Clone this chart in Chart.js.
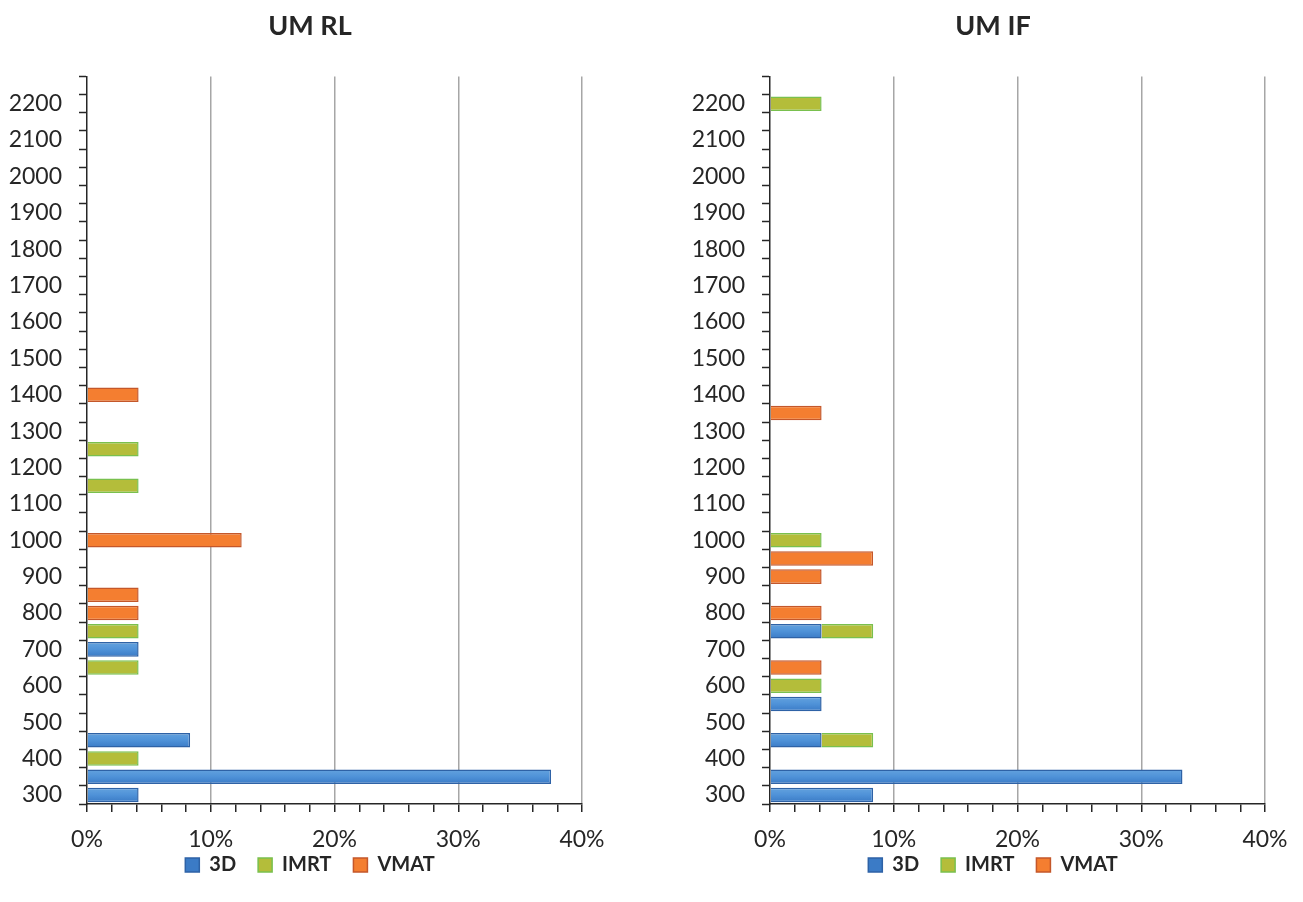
<!DOCTYPE html>
<html>
<head>
<meta charset="utf-8">
<title>UM RL / UM IF</title>
<script src="https://cdn.jsdelivr.net/npm/chart.js@4/dist/chart.umd.min.js"></script>
<style>
  body { margin: 0; background: #fff; }
  .box { position: absolute; top: 0; width: 620px; height: 902px; }
</style>
</head>
<body>
<div class="box" style="left:0"><canvas id="chartRL" width="620" height="902"></canvas></div>
<div class="box" style="left:683px"><canvas id="chartIF" width="620" height="902"></canvas></div>
<script>
// MU bins (y axis), bottom to top
var muBins = [300, 350, 400, 450, 500, 550, 600, 650, 700, 750,
              800, 850, 900, 950, 1000, 1050, 1100, 1150, 1200, 1250,
              1300, 1350, 1400, 1450, 1500, 1550, 1600, 1650, 1700, 1750,
              1800, 1850, 1900, 1950, 2000, 2050, 2100, 2150, 2200, 2250];
var xTicks = [0, 10, 20, 30, 40];

// UM RL: bins that hold a value, and the share of plans (%)
var rlBins3D = [300, 350, 450, 700];
var rl3D = [4.17, 37.5, 8.33, 4.17];
var rlBinsIMRT = [400, 650, 750, 1150, 1250];
var rlIMRT = [4.17, 4.17, 4.17, 4.17, 4.17];
var rlBinsVMAT = [800, 850, 1000, 1400];
var rlVMAT = [4.17, 4.17, 12.5, 4.17];

// UM IF
var ifBins3D = [300, 350, 450, 550, 750];
var if3D = [8.33, 33.33, 4.17, 4.17, 4.17];
var ifBinsIMRT = [450, 600, 750, 1000, 2200];
var ifIMRT = [4.17, 4.17, 4.17, 4.17, 4.17];
var ifBinsVMAT = [650, 800, 900, 950, 1350];
var ifVMAT = [4.17, 4.17, 4.17, 8.33, 4.17];

var FONT = 'Lato, "Open Sans", sans-serif';
var INK = '#262626';

function spread(bins, values) {
    return muBins.map(function (b) {
        var i = bins.indexOf(b);
        return i < 0 ? null : values[i];
    });
}

// blue bars get a soft top-to-bottom shading
function blueFill(ctx) {
    var flat = '#4f92d8';
    if (ctx.type !== 'data' || !ctx.parsed || !ctx.chart.scales.y) return flat;
    var y = ctx.chart.scales.y.getPixelForValue(ctx.parsed.y);
    if (!isFinite(y)) return flat;
    var g = ctx.chart.ctx.createLinearGradient(0, y - 7, 0, y + 7);
    g.addColorStop(0, '#63a2de');
    g.addColorStop(0.5, '#4f92d8');
    g.addColorStop(1, '#3b7bc6');
    return g;
}

// pull the legend up closer to the axis labels
var liftLegend = {
    id: 'liftLegend',
    afterLayout: function (chart) {
        chart.legend.top -= 21;
        chart.legend.bottom -= 21;
    }
};

function renderChart(id, title, d3, dImrt, dVmat) {
    var ctx = document.getElementById(id).getContext('2d');
    return new Chart(ctx, {
        type: 'bar',
        data: {
            labels: muBins.map(String),
            datasets: [
                { label: '3D', data: d3, backgroundColor: blueFill, borderColor: '#2e62a6', borderWidth: 1.5 },
                { label: 'IMRT', data: dImrt, backgroundColor: '#b4bd3a', borderColor: '#79c04e', borderWidth: 1.5 },
                { label: 'VMAT', data: dVmat, backgroundColor: '#f47e30', borderColor: '#c4572a', borderWidth: 1.5 }
            ]
        },
        plugins: [liftLegend],
        options: {
            indexAxis: 'y',
            responsive: false,
            animation: false,
            devicePixelRatio: 1,
            categoryPercentage: 1,
            barPercentage: 0.8,
            layout: { padding: 0 },
            plugins: {
                title: {
                    display: true,
                    text: title,
                    color: INK,
                    font: { family: FONT, size: 27, weight: 'bold' },
                    padding: { top: 10, bottom: 34 }
                },
                legend: {
                    position: 'bottom',
                    maxHeight: 48,
                    labels: {
                        color: INK,
                        boxWidth: 14,
                        boxHeight: 14,
                        padding: 22,
                        font: { family: FONT, size: 20, weight: 'bold' }
                    }
                },
                tooltip: { enabled: false }
            },
            scales: {
                x: {
                    stacked: true,
                    min: 0,
                    max: 40,
                    afterFit: function (s) { s.height = 50; s.paddingRight = 38; },
                    border: { color: INK, width: 1.5 },
                    grid: {
                        color: function (c) {
                            return c.tick && c.tick.value > 0 && xTicks.indexOf(c.tick.value) >= 0 ? '#a6a6a6' : 'rgba(0,0,0,0)';
                        },
                        lineWidth: 1.5,
                        tickColor: INK,
                        tickLength: 8,
                        tickWidth: 1.5
                    },
                    ticks: {
                        stepSize: 2,
                        autoSkip: false,
                        maxRotation: 0,
                        padding: 14,
                        color: INK,
                        font: { family: FONT, size: 23 },
                        callback: function (v) { return xTicks.indexOf(v) >= 0 ? v + '%' : ''; }
                    }
                },
                y: {
                    stacked: true,
                    reverse: true,
                    afterFit: function (s) { s.width = 87; },
                    border: { color: INK, width: 1.5 },
                    grid: {
                        offset: true,
                        drawOnChartArea: false,
                        tickColor: INK,
                        tickLength: 8,
                        tickWidth: 1.5
                    },
                    ticks: {
                        autoSkip: false,
                        padding: 17,
                        color: INK,
                        font: { family: FONT, size: 23 },
                        callback: function (v) {
                            var lab = this.getLabelForValue(v);
                            return Number(lab) % 100 === 0 ? lab : '';
                        }
                    }
                }
            }
        }
    });
}

renderChart('chartRL', 'UM RL', spread(rlBins3D, rl3D), spread(rlBinsIMRT, rlIMRT), spread(rlBinsVMAT, rlVMAT));
renderChart('chartIF', 'UM IF', spread(ifBins3D, if3D), spread(ifBinsIMRT, ifIMRT), spread(ifBinsVMAT, ifVMAT));
</script>
</body>
</html>
